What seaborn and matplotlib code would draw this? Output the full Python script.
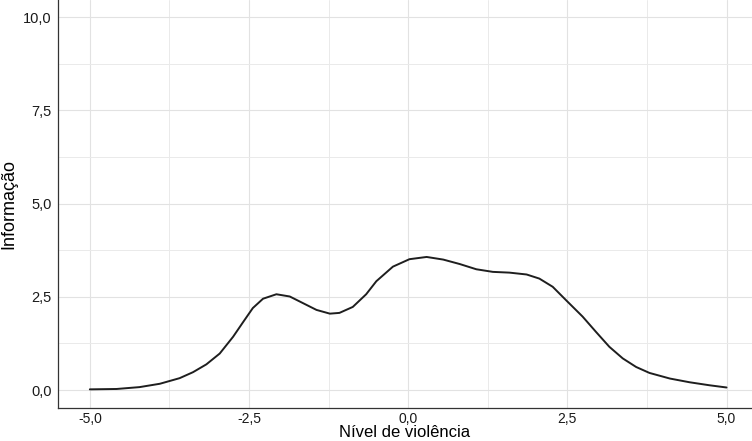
import numpy as np
import pandas as pd
import seaborn as sns
import matplotlib.pyplot as plt
from matplotlib.ticker import FixedLocator, FuncFormatter

# Curve
nivel = [-5.00, -4.58, -4.22, -3.90, -3.59, -3.38, -3.17, -2.96, -2.75, -2.59,
         -2.44, -2.28, -2.07, -1.86, -1.65, -1.44, -1.23, -1.08, -0.87, -0.66,
         -0.50, -0.24, 0.02, 0.29, 0.55, 0.81, 1.07, 1.33, 1.59, 1.86,
         2.06, 2.27, 2.48, 2.74, 2.95, 3.16, 3.37, 3.58, 3.79, 4.11,
         4.42, 4.73, 5.00]
informacao = [0.02, 0.03, 0.08, 0.17, 0.32, 0.48, 0.69, 0.98, 1.43, 1.83,
              2.20, 2.45, 2.57, 2.51, 2.33, 2.15, 2.05, 2.07, 2.23, 2.57,
              2.92, 3.31, 3.51, 3.57, 3.50, 3.38, 3.24, 3.17, 3.15, 3.10,
              2.99, 2.77, 2.41, 1.97, 1.56, 1.16, 0.85, 0.62, 0.46, 0.31,
              0.21, 0.13, 0.07]

x_ticks = [-5.0, -2.5, 0.0, 2.5, 5.0]
y_ticks = [0.0, 2.5, 5.0, 7.5, 10.0]

df = pd.DataFrame({"nivel": nivel, "info": informacao})

sns.set_style("white")
plt.rcParams["font.family"] = ["Liberation Sans", "DejaVu Sans"]

fig = plt.figure(figsize=(7.52, 4.41), dpi=100)
ax = fig.add_axes([58 / 752, 33 / 441, 694 / 752, 408 / 441])

ax.set_xlim(-5.5, 5.4)
ax.set_ylim(-0.48, 10.46)

ax.xaxis.set_major_locator(FixedLocator(x_ticks))
ax.yaxis.set_major_locator(FixedLocator(y_ticks))
ax.xaxis.set_minor_locator(FixedLocator([-3.75, -1.25, 1.25, 3.75]))
ax.yaxis.set_minor_locator(FixedLocator([1.25, 3.75, 6.25, 8.75]))
ax.grid(which="major", color="#e2e2e2", linewidth=0.8)
ax.grid(which="minor", color="#eaeaea", linewidth=0.7)
ax.set_axisbelow(True)

sns.lineplot(data=df, x="nivel", y="info", ax=ax, color="#1e1e1e", linewidth=1.4)

fmt = FuncFormatter(lambda v, p: f"{v:.1f}".replace(".", ","))
ax.xaxis.set_major_formatter(fmt)
ax.yaxis.set_major_formatter(fmt)

for s in ["top", "right"]:
    ax.spines[s].set_visible(False)
for s in ["left", "bottom"]:
    ax.spines[s].set_color("#333333")
    ax.spines[s].set_linewidth(0.9)

ax.tick_params(which="major", length=3, width=0.8, color="#333333",
               labelsize=10.5, labelcolor="#1a1a1a", pad=1.5)
ax.tick_params(axis="x", labelsize=10, pad=0)
ax.tick_params(which="minor", length=0)

ax.set_xlabel("Nível de violência", fontsize=12, color="black", labelpad=-1)
ax.set_ylabel("Informação", fontsize=13, color="black", labelpad=4)

fig.savefig("out.png", dpi=100)
